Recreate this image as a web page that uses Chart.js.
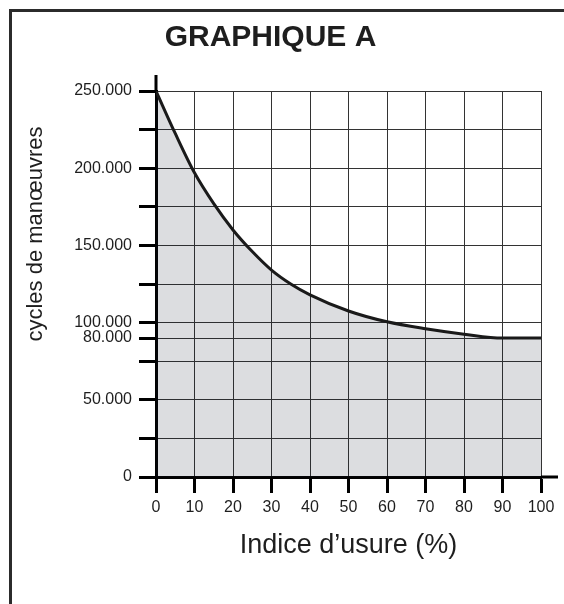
<!DOCTYPE html>
<html>
<head>
<meta charset="utf-8">
<script src="https://cdn.jsdelivr.net/npm/chart.js@4/dist/chart.umd.min.js"></script>
<style>
  html, body { margin: 0; padding: 0; background: #fff; }
  #wrap { position: relative; width: 564px; height: 604px; overflow: hidden; }
  #frame { position: absolute; left: 9px; top: 9px; width: 600px; height: 640px;
           border-left: 3px solid #2b2b2b; border-top: 3px solid #2b2b2b; }
  canvas { position: absolute; left: 0; top: 0; }
</style>
</head>
<body>
<div id="wrap">
  <div id="frame"></div>
  <canvas id="chart" width="564" height="604"></canvas>
</div>
<script>
/* Wear index (%) and remaining cycles */
const wearIndex = [0, 5, 10, 15, 20, 25, 30, 35, 40, 50, 60, 70, 80, 90, 100];
const cycles = [250000, 222500, 197000, 177000, 160000, 146000, 134000, 125000, 118000, 107500, 100500, 96000, 92500, 90000, 90000];

/* Y ticks as drawn (the "80.000" line sits just under 100.000) */
const yTickValues = [0, 25000, 50000, 75000, 90000, 100000, 125000, 150000, 175000, 200000, 225000, 250000];
const yTickLabels = ['0', '', '50.000', '', '80.000', '100.000', '', '150.000', '', '200.000', '', '250.000'];

const FONT = "'Liberation Sans', Arial, Helvetica, sans-serif";
const INK = '#1e1e1e';

/* Extra bits: axis overhangs and the vertical axis title */
const decorPlugin = {
    id: 'decor',
    afterDraw(chart) {
        const { ctx, chartArea } = chart;
        ctx.save();
        ctx.strokeStyle = '#000';
        ctx.lineWidth = 3;
        ctx.beginPath();
        ctx.moveTo(chartArea.left, chartArea.top);
        ctx.lineTo(chartArea.left, chartArea.top - 16);
        ctx.moveTo(chartArea.right, chartArea.bottom);
        ctx.lineTo(chartArea.right + 17, chartArea.bottom);
        ctx.stroke();

        ctx.translate(36, chartArea.top + 143);
        ctx.rotate(-Math.PI / 2);
        ctx.fillStyle = INK;
        ctx.font = "22px " + FONT;
        ctx.textAlign = 'center';
        ctx.textBaseline = 'middle';
        ctx.fillText('cycles de manœuvres', 0, 0);
        ctx.restore();
    }
};

const points = wearIndex.map((x, i) => ({ x: x, y: cycles[i] }));

new Chart(document.getElementById('chart'), {
    type: 'line',
    data: {
        datasets: [{
            data: points,
            borderColor: '#1a1a1a',
            borderWidth: 3,
            backgroundColor: 'rgba(22, 28, 48, 0.15)',
            fill: 'origin',
            pointRadius: 0,
            cubicInterpolationMode: 'monotone'
        }]
    },
    options: {
        responsive: false,
        devicePixelRatio: 1,
        animation: false,
        layout: { padding: { left: 0, right: 23, top: 0, bottom: 0 } },
        plugins: {
            legend: { display: false },
            tooltip: { enabled: false },
            title: {
                display: true,
                text: 'GRAPHIQUE A',
                color: INK,
                font: { family: FONT, size: 30, weight: 'bold' },
                padding: { top: 20, bottom: 35 }
            }
        },
        scales: {
            x: {
                type: 'linear',
                min: 0,
                max: 100,
                afterFit: (scale) => { scale.height = 127; },
                ticks: {
                    stepSize: 10,
                    color: INK,
                    padding: 5,
                    maxRotation: 0,
                    font: { family: FONT, size: 16 }
                },
                grid: {
                    color: '#333',
                    lineWidth: 1,
                    tickColor: '#000',
                    tickWidth: 3,
                    tickLength: 16
                },
                border: { color: '#000', width: 3 },
                title: {
                    display: true,
                    text: 'Indice d’usure (%)',
                    color: INK,
                    font: { family: FONT, size: 27 },
                    padding: { top: 0, bottom: 42 }
                }
            },
            y: {
                type: 'linear',
                min: 0,
                max: 250000,
                afterFit: (scale) => { scale.width = 156; },
                afterBuildTicks: (scale) => {
                    scale.ticks = yTickValues.map(v => ({ value: v }));
                },
                ticks: {
                    autoSkip: false,
                    color: INK,
                    padding: 7,
                    font: { family: FONT, size: 16 },
                    callback: (value) => {
                        const i = yTickValues.indexOf(value);
                        return i >= 0 ? yTickLabels[i] : '';
                    }
                },
                grid: {
                    color: '#333',
                    lineWidth: 1,
                    tickColor: '#000',
                    tickWidth: 3,
                    tickLength: 17
                },
                border: { color: '#000', width: 3 }
            }
        }
    },
    plugins: [decorPlugin]
});
</script>
</body>
</html>
